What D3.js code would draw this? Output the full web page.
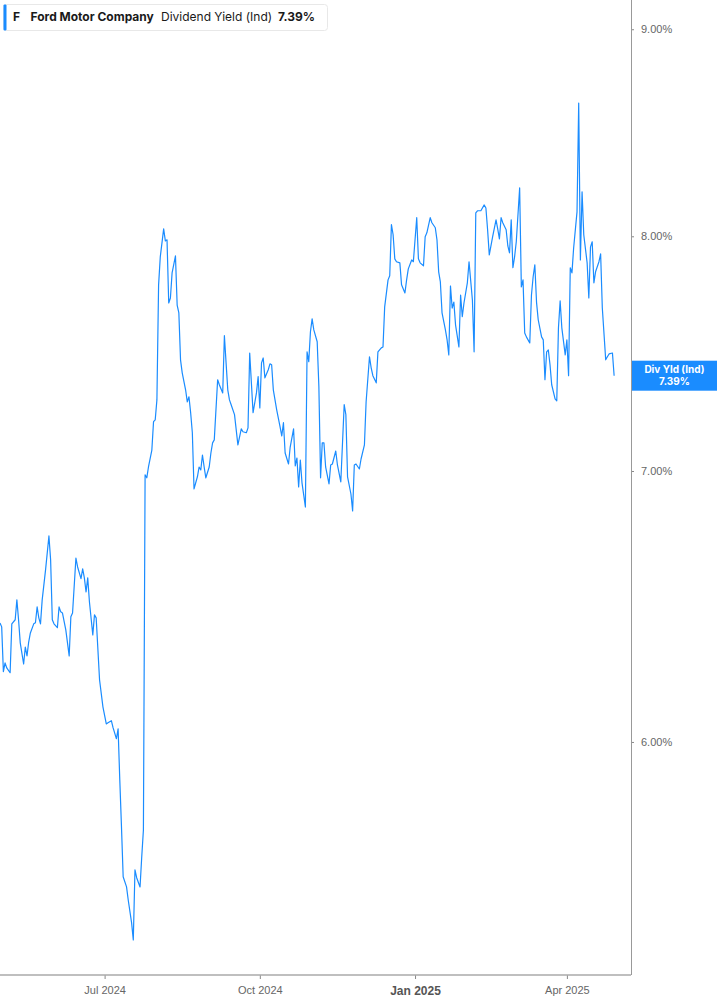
<!DOCTYPE html>
<html>
<head>
<meta charset="utf-8">
<style>
body { margin: 0; background: #fff; }
svg { display: block; font-family: Inter, "Noto Sans", sans-serif; }
.xaxis text { fill: #666; font-size: 11px; }
.yaxis text { fill: #666; font-size: 11px; }
.xaxis line, .yaxis line { stroke: #888; }
</style>
</head>
<body>
<div id="ch1"></div>
<script src="https://d3js.org/d3.v7.min.js"></script>
<script>

// first day of the series
var startDay = "2024-04-30";

// calendar days after startDay
var dayOffsets = [
  0,1,2,3,4,6,7,9,10,11,
  12,14,15,16,17,18,20,21,22,23,
  24,25,27,29,30,31,32,34,35,36,
  37,39,41,42,43,45,46,48,49,50,
  51,52,53,55,56,57,59,61,63,64,
  66,67,69,70,71,72,73,75,76,78,
  79,80,81,83,84,85,86,87,88,90,
  91,92,93,94,95,97,98,99,100,101,
  102,104,105,106,107,108,110,111,112,113,
  114,115,117,118,119,120,121,122,124,125,
  126,127,129,130,132,133,134,135,136,137,
  139,141,143,144,146,147,148,
  150,152,153,154,155,156,157,159,160,161,
  162,164,166,167,168,169,171,172,174,175,
  176,177,178,179,181,182,183,184,185,186,
  188,189,190,191,192,193,195,196,197,199,
  200,202,204,205,206,208,209,210,211,213,
  214,216,217,219,220,221,223,224,226,227,
  228,230,231,232,233,234,235,237,238,240,
  241,242,244,245,247,248,249,251,252,253,
  255,256,258,259,260,261,262,264,265,266,
  267,268,269,270,272,273,274,275,277,278,
  280,281,282,283,285,287,288,289,290,292,
  294,295,296,297,298,300,301,302,303,304,
  305,306,308,309,310,311,312,314,315,316,
  317,318,319,321,322,323,324,325,326,327,
  329,330,331,332,333,335,336,337,338,339,
  340,342,343,344,345,346,348,349,350,351,
  352,353,355,356,357,359,360,361,363,364
];

// dividend yield (%)
var yields = [
  6.420,6.406,6.245,6.276,6.258,6.241,6.417,6.432,6.505,6.432,
  6.348,6.272,6.333,6.301,6.351,6.384,6.417,6.421,6.479,6.439,
  6.417,6.505,6.617,6.746,6.655,6.432,6.417,6.403,6.479,6.461,
  6.457,6.395,6.301,6.443,6.457,6.662,6.628,6.584,6.621,6.587,
  6.535,6.587,6.498,6.377,6.450,6.439,6.216,6.121,6.062,6.066,
  6.073,6.049,6.011,6.045,5.872,5.717,5.557,5.525,5.484,5.413,
  5.361,5.579,5.554,5.525,5.620,5.707,6.985,6.973,7.016,7.084,
  7.199,7.207,7.289,7.782,7.907,8.034,7.979,7.984,7.702,7.724,
  7.835,7.911,7.693,7.659,7.457,7.402,7.331,7.281,7.302,7.236,
  7.154,6.929,6.977,7.016,7.004,7.064,7.016,6.973,7.016,7.072,
  7.113,7.125,7.373,7.352,7.318,7.560,7.444,7.331,7.289,7.269,
  7.228,7.105,7.170,7.158,7.154,7.174,7.486,
  7.236,7.318,7.386,7.256,7.444,7.465,7.381,7.415,7.440,7.436,
  7.331,7.248,7.178,7.141,7.195,7.072,7.028,7.096,7.170,7.020,
  7.052,6.937,7.044,6.953,6.858,7.491,7.449,7.577,7.633,7.585,
  7.534,7.344,6.973,7.113,7.113,7.016,6.949,7.024,7.028,7.080,
  7.024,6.957,7.269,7.228,6.977,6.909,6.843,7.024,7.028,7.008,
  7.048,7.105,7.281,7.470,7.423,7.390,7.360,7.491,7.508,7.512,
  7.685,7.804,7.822,8.053,8.007,7.898,7.885,7.880,7.782,7.746,
  7.804,7.853,7.893,7.885,8.085,7.898,7.880,7.867,7.998,8.016,
  8.085,8.062,8.039,7.984,7.840,7.795,7.659,7.585,7.542,7.478,
  7.777,7.680,7.706,7.607,7.512,7.737,7.642,7.702,7.791,7.885,
  7.715,7.491,8.107,8.117,8.117,8.144,8.130,8.030,7.916,7.998,
  8.075,8.034,7.988,8.085,8.062,8.030,7.956,7.925,8.075,7.858,
  7.907,7.975,8.223,7.773,7.804,7.572,7.555,7.529,7.737,7.818,
  7.871,7.706,7.629,7.555,7.542,7.373,7.491,7.499,7.436,7.352,
  7.293,7.285,7.594,7.711,7.594,7.478,7.542,7.390,7.858,7.835,
  7.947,8.112,8.630,7.893,8.205,8.007,7.880,7.724,7.952,7.975,
  7.791,7.840,7.885,7.920,7.680,7.457,7.470,7.482,7.486,7.390
];

var xTickDates = ["2024-07-01", "2024-10-01", "2025-01-01", "2025-04-01"];
var xTickLabels = ["Jul 2024", "Oct 2024", "Jan 2025", "Apr 2025"];
var yTicks = [6, 7, 8, 9];

var ticker = "F";
var company = "Ford Motor Company";
var metric = "Dividend Yield (Ind)";
var tagLabel = "Div Yld (Ind)";

var blue = "#1a8cff";
var W = 717, H = 1005;
var plotW = 631, plotH = 975;

var parse = d3.utcParse("%Y-%m-%d");
var start = parse(startDay);
var n = Math.min(dayOffsets.length, yields.length);
var data = [];
for (var i = 0; i < n; i++) {
  data.push({date: d3.utcDay.offset(start, dayOffsets[i]), value: yields[i]});
}
var last = data[data.length - 1];

var x = d3.scaleUtc()
  .domain([start, parse("2025-05-09")])
  .range([0, plotW]);

var y = d3.scaleLog()
  .domain([5.258, 9.151])
  .range([plotH - 1, 0]);

var svg = d3.select("#ch1").append("svg")
  .attr("width", W)
  .attr("height", H);

svg.append("clipPath").attr("id", "clip")
  .append("rect").attr("x", 0).attr("y", 0).attr("width", plotW).attr("height", plotH);

// bottom axis
var xAxis = svg.append("g")
  .attr("class", "xaxis")
  .attr("transform", "translate(0," + plotH + ")")
  .call(d3.axisBottom(x)
    .tickValues(xTickDates.map(parse))
    .tickSize(4)
    .tickPadding(7)
    .tickFormat(function(d, i) { return xTickLabels[i]; }));
xAxis.select(".domain").remove();
xAxis.selectAll("text")
  .filter(function(d, i) { return xTickLabels[i] == "Jan 2025"; })
  .style("font-weight", "bold")
  .style("font-size", "12px")
  .style("fill", "#555");

svg.append("line")
  .attr("x1", 0).attr("x2", plotW)
  .attr("y1", plotH).attr("y2", plotH)
  .attr("stroke", "#aaa")
  .attr("stroke-width", 1.5);

// right axis
var yAxis = svg.append("g")
  .attr("class", "yaxis")
  .attr("transform", "translate(" + plotW + ",0)")
  .call(d3.axisRight(y)
    .tickValues(yTicks)
    .tickSize(3)
    .tickPadding(7)
    .tickFormat(function(d) { return d.toFixed(2) + "%"; }));
yAxis.select(".domain").remove();

svg.append("line")
  .attr("x1", plotW + 0.5).attr("x2", plotW + 0.5)
  .attr("y1", 0).attr("y2", plotH)
  .attr("stroke", "#999")
  .attr("stroke-width", 1);

// the line
var line = d3.line()
  .x(function(d) { return x(d.date); })
  .y(function(d) { return y(d.value); });

svg.append("path")
  .datum(data)
  .attr("clip-path", "url(#clip)")
  .attr("fill", "none")
  .attr("stroke", blue)
  .attr("stroke-width", 1.2)
  .attr("stroke-linejoin", "round")
  .attr("d", line);

// last value tag
var ty = y(last.value);
var tag = svg.append("g").attr("transform", "translate(" + (plotW + 1) + "," + (ty - 15) + ")");
tag.append("rect")
  .attr("width", W - plotW - 1)
  .attr("height", 30)
  .attr("fill", blue);
tag.append("text")
  .attr("x", (W - plotW - 1) / 2)
  .attr("y", 12.5)
  .attr("text-anchor", "middle")
  .attr("fill", "#fff")
  .style("font-size", "10px")
  .style("font-weight", "bold")
  .text(tagLabel);
tag.append("text")
  .attr("x", (W - plotW - 1) / 2)
  .attr("y", 24.5)
  .attr("text-anchor", "middle")
  .attr("fill", "#fff")
  .style("font-size", "10px")
  .style("font-weight", "bold")
  .text(last.value.toFixed(2) + "%");

// legend
var lg = svg.append("g");
lg.append("rect")
  .attr("x", 3.5).attr("y", 4.5)
  .attr("width", 324).attr("height", 26)
  .attr("rx", 3)
  .attr("fill", "#fff")
  .attr("stroke", "#e8e8e8");
lg.append("rect")
  .attr("x", 3.5).attr("y", 4.5)
  .attr("width", 3).attr("height", 26)
  .attr("rx", 1)
  .attr("fill", blue);

var legendBits = [
  {t: ticker, x: 13, w: "bold"},
  {t: company, x: 30.5, w: "bold"},
  {t: metric, x: 161, w: "normal"},
  {t: last.value.toFixed(2) + "%", x: 278, w: "bold"}
];
lg.selectAll("text.lg")
  .data(legendBits)
  .enter().append("text")
  .attr("class", "lg")
  .attr("x", function(d) { return d.x; })
  .attr("y", 21)
  .attr("fill", "#1a1a1a")
  .style("font-size", "12px")
  .style("font-weight", function(d) { return d.w; })
  .text(function(d) { return d.t; });

</script>
</body>
</html>
